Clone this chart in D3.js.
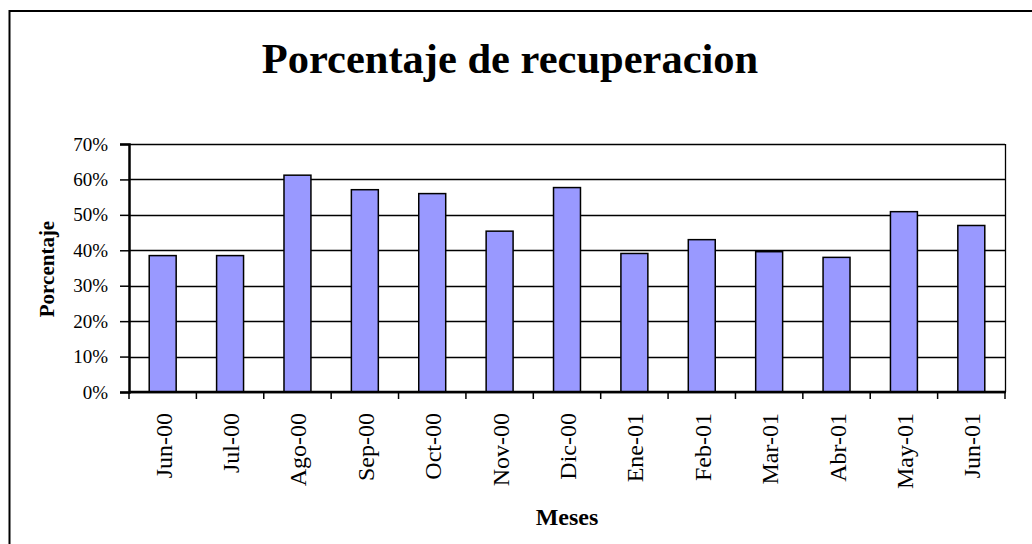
<!DOCTYPE html>
<html>
  <head>
    <meta charset="UTF-8">
    <title>Porcentaje de recuperacion</title>
    <style>
      body { margin: 0; background: #fff; }
      svg { display: block; font-family: "Liberation Serif", "Times New Roman", serif; }
    </style>
  </head>
  <body>
    <svg class="chart"></svg>
    <script src="https://d3js.org/d3.v7.min.js"></script>
    <script>

/* DATA */
var meses = ["Jun-00", "Jul-00", "Ago-00", "Sep-00", "Oct-00", "Nov-00", "Dic-00",
             "Ene-01", "Feb-01", "Mar-01", "Abr-01", "May-01", "Jun-01"];
var porcentaje = [0.385, 0.385, 0.612, 0.571, 0.560, 0.454, 0.577,
                  0.391, 0.430, 0.396, 0.380, 0.509, 0.470];
var yTicks = [0, 0.1, 0.2, 0.3, 0.4, 0.5, 0.6, 0.7];

var width = 1032, height = 544;
var plot = { left: 129, right: 1005, top: 144, bottom: 392 };

var svg = d3.select("svg")
    .attr("width", width)
    .attr("height", height);

// outer chart frame (runs off the right/bottom edge like the original)
svg.append("rect")
    .attr("x", 9.5).attr("y", 11)
    .attr("width", 1040).attr("height", 560)
    .attr("fill", "#fff")
    .attr("stroke", "#000")
    .attr("stroke-width", 2);

var x = d3.scaleBand()
    .domain(meses)
    .range([plot.left, plot.right])
    .paddingInner(0.6)
    .paddingOuter(0.3);

// tick marks sit between categories
var xTicks = d3.scalePoint()
    .domain(d3.range(meses.length + 1))
    .range([plot.left, plot.right]);

var y = d3.scaleLinear()
    .domain([0, 0.7])
    .range([plot.bottom, plot.top]);

// gridlines
svg.append("g")
    .attr("class", "grid")
  .selectAll("line")
  .data(yTicks)
  .enter().append("line")
    .attr("x1", plot.left)
    .attr("x2", plot.right)
    .attr("y1", function(d) { return Math.round(y(d)) + 0.5; })
    .attr("y2", function(d) { return Math.round(y(d)) + 0.5; })
    .attr("stroke", "#000")
    .attr("stroke-width", 1.3);

// right border of plot area
svg.append("line")
    .attr("x1", plot.right + 0.5).attr("x2", plot.right + 0.5)
    .attr("y1", plot.top).attr("y2", plot.bottom)
    .attr("stroke", "#000")
    .attr("stroke-width", 1.3);

// bars
svg.append("g")
    .attr("class", "bars")
  .selectAll("rect")
  .data(porcentaje)
  .enter().append("rect")
    .attr("x", function(d, i) { return x(meses[i]); })
    .attr("y", function(d) { return y(d); })
    .attr("width", x.bandwidth())
    .attr("height", function(d) { return y(0) - y(d); })
    .attr("fill", "#9999ff")
    .attr("stroke", "#000")
    .attr("stroke-width", 1.5);

// y axis
var yAxis = d3.axisLeft(y)
    .tickValues(yTicks)
    .tickFormat(d3.format(".0%"))
    .tickSize(9)
    .tickPadding(12);

var gy = svg.append("g")
    .attr("transform", "translate(" + plot.left + ",0)")
    .call(yAxis);
gy.select(".domain").attr("stroke-width", 2.5);
gy.selectAll(".tick line").attr("stroke-width", 1.5);
gy.selectAll("text")
    .attr("font-family", "Liberation Serif, Times New Roman, serif")
    .attr("font-size", 19)
    .attr("fill", "#000");

// x axis: line plus ticks between the categories
svg.append("line")
    .attr("x1", plot.left).attr("x2", plot.right + 1)
    .attr("y1", plot.bottom).attr("y2", plot.bottom)
    .attr("stroke", "#000")
    .attr("stroke-width", 2.5);

svg.append("g")
    .attr("class", "xticks")
  .selectAll("line")
  .data(xTicks.domain())
  .enter().append("line")
    .attr("x1", function(d) { return xTicks(d); })
    .attr("x2", function(d) { return xTicks(d); })
    .attr("y1", plot.bottom)
    .attr("y2", plot.bottom + 7)
    .attr("stroke", "#000")
    .attr("stroke-width", 1.5);

svg.append("g")
    .attr("class", "xlabels")
  .selectAll("text")
  .data(meses)
  .enter().append("text")
    .attr("transform", function(d) {
      return "translate(" + (x(d) + x.bandwidth() / 2 + 9) + "," + (plot.bottom + 21) + ") rotate(-90)";
    })
    .attr("text-anchor", "end")
    .attr("font-size", 24)
    .text(function(d) { return d; });

// titles
svg.append("text")
    .attr("x", 510)
    .attr("y", 73)
    .attr("text-anchor", "middle")
    .attr("font-size", 42.5)
    .attr("font-weight", "bold")
    .text("Porcentaje de recuperacion");

svg.append("text")
    .attr("x", 567)
    .attr("y", 525)
    .attr("text-anchor", "middle")
    .attr("font-size", 24)
    .attr("font-weight", "bold")
    .text("Meses");

svg.append("text")
    .attr("transform", "translate(54,269) rotate(-90)")
    .attr("text-anchor", "middle")
    .attr("font-size", 21)
    .attr("font-weight", "bold")
    .text("Porcentaje");

</script>
  </body>
</html>
